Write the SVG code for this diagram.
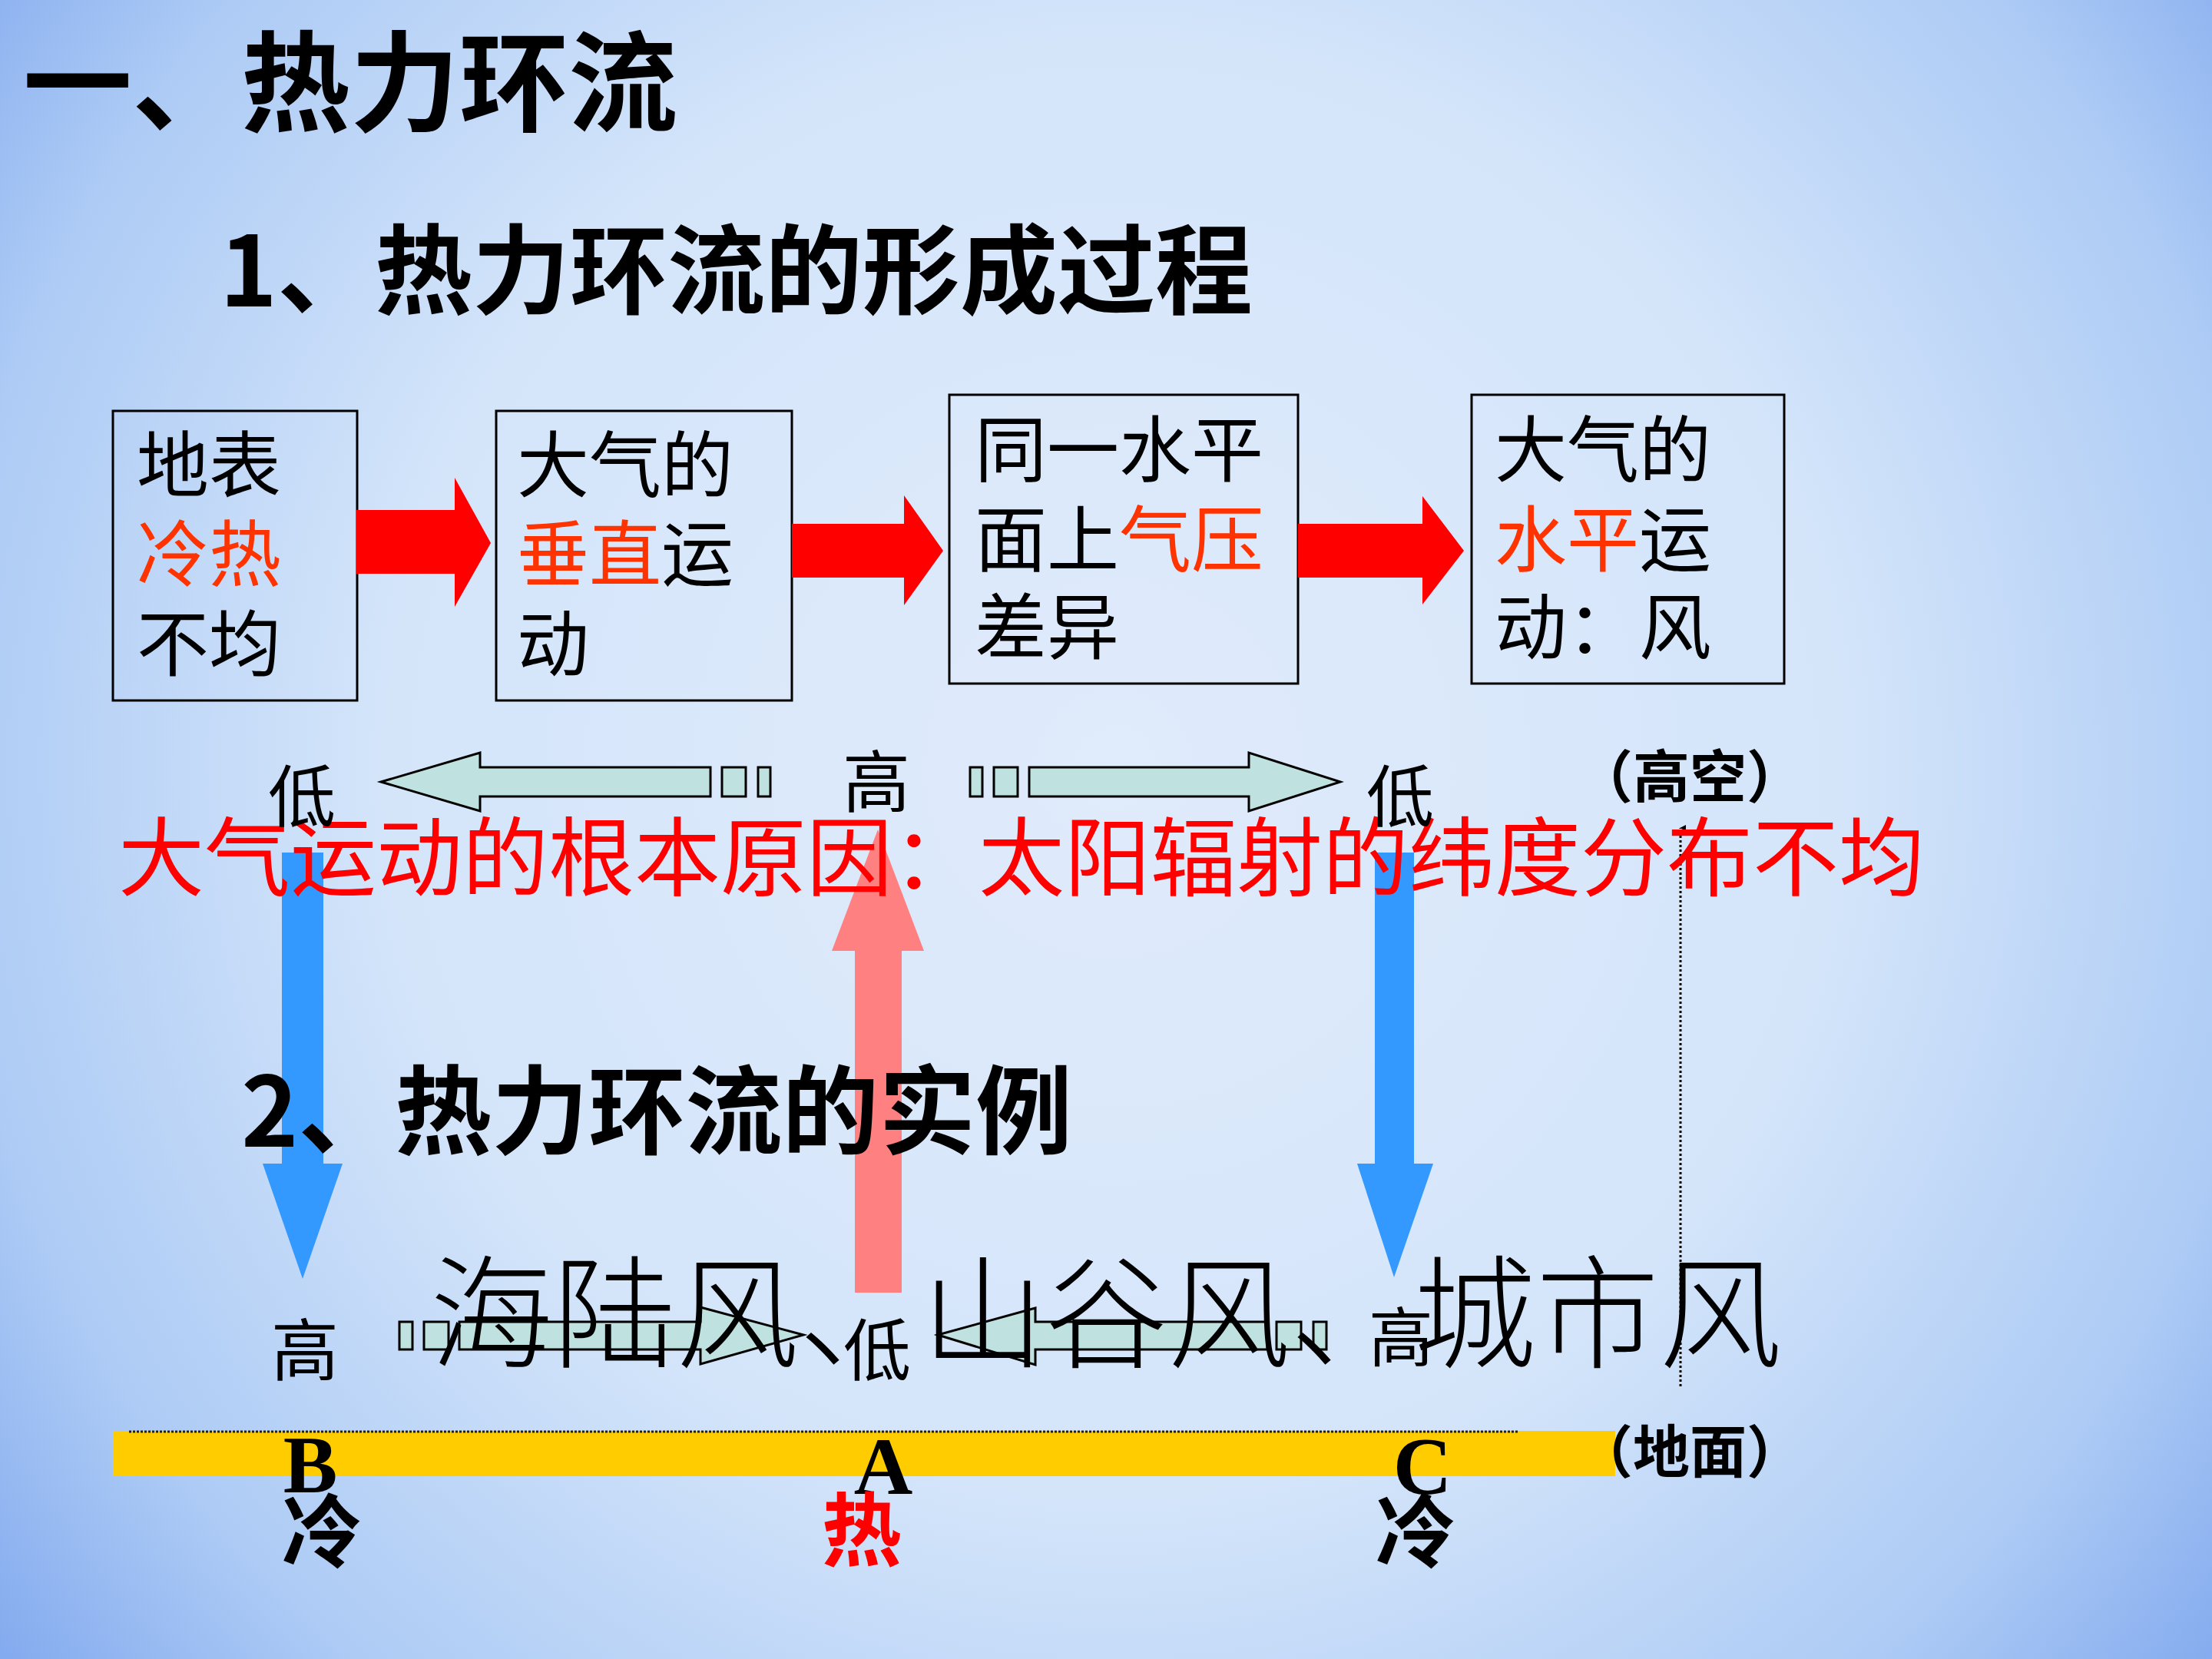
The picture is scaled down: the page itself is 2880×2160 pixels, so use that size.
<svg xmlns="http://www.w3.org/2000/svg" width="2880" height="2160" viewBox="0 0 2880 2160">
<defs>
<radialGradient id="bg" gradientUnits="userSpaceOnUse" cx="1450" cy="1000" r="1900">
<stop offset="0" stop-color="#e0ebfb"/>
<stop offset="0.5" stop-color="#d4e5fa"/>
<stop offset="0.8" stop-color="#adcbf5"/>
<stop offset="1" stop-color="#7ea6ee"/>
</radialGradient>
<marker id="tri" viewBox="0 0 10 10" refX="5" refY="1" markerWidth="8" markerHeight="8" markerUnits="userSpaceOnUse" orient="auto-start-reverse">
<path d="M0,10 L5,0 L10,10 Z" fill="#000"/>
</marker>
<style>
.cjk{font-family:"Noto Sans CJK SC","Noto Sans CJK JP",sans-serif;}
.k{fill:#000;}
.o{fill:#ff3300;}
.r{fill:#ff0000;}
.box{fill:none;stroke:#000;stroke-width:3;}
.red{fill:#ff0000;}
.blue{fill:#3399ff;}
.pink{fill:#ff8080;}
.hol{fill:#bfe1df;stroke:#000;stroke-width:3;stroke-linejoin:miter;}
.bt{font-size:94px;}
.lab{font-size:88px;}
.ser{font-family:"Liberation Serif",serif;font-weight:bold;}
</style>
</defs>
<rect x="0" y="0" width="2880" height="2160" fill="url(#bg)"/>

<g id="titles" class="cjk k" font-weight="bold">
<text x="30" y="160" font-size="142">一、热力环流</text>
<text x="286" y="399" font-size="127">1、热力环流的形成过程</text>
</g>

<g id="node-1">
<rect class="box" x="147" y="535" width="318" height="377"/>
<text class="cjk bt k" x="178" y="640">地表</text>
<text class="cjk bt o" x="178" y="756">冷热</text>
<text class="cjk bt k" x="178" y="873">不均</text>
</g>
<g id="node-2">
<rect class="box" x="646" y="535" width="385" height="377"/>
<text class="cjk bt k" x="673" y="640">大气的</text>
<text class="cjk bt" x="673" y="756"><tspan class="o">垂直</tspan><tspan class="k">运</tspan></text>
<text class="cjk bt k" x="673" y="873">动</text>
</g>
<g id="node-3">
<rect class="box" x="1236" y="514" width="454" height="376"/>
<text class="cjk bt k" x="1269" y="620">同一水平</text>
<text class="cjk bt" x="1269" y="737"><tspan class="k">面上</tspan><tspan class="o">气压</tspan></text>
<text class="cjk bt k" x="1269" y="851">差异</text>
</g>
<g id="node-4">
<rect class="box" x="1916" y="514" width="407" height="376"/>
<text class="cjk bt k" x="1946" y="620">大气的</text>
<text class="cjk bt" x="1946" y="737"><tspan class="o">水平</tspan><tspan class="k">运</tspan></text>
<text class="cjk bt k" x="1946" y="851">动：风</text>
</g>

<g id="connectors">
<polygon class="red" points="464,664 592,664 592,622 639,707 592,790 592,747 464,747"/>
<polygon class="red" points="1031,682 1177,682 1177,645 1228,717 1177,788 1177,752 1031,752"/>
<polygon class="red" points="1690,682 1852,682 1852,646 1906,717 1852,787 1852,752 1690,752"/>

<polygon class="hol" points="496,1018 625,980 625,999 925,999 925,1037 625,1037 625,1056"/>
<rect class="hol" x="940" y="999" width="31" height="38"/>
<rect class="hol" x="987" y="999" width="16" height="38"/>
<polygon class="hol" points="1745,1018 1626,980 1626,999 1340,999 1340,1037 1626,1037 1626,1056"/>
<rect class="hol" x="1294" y="999" width="31" height="38"/>
<rect class="hol" x="1263" y="999" width="16" height="38"/>

<polygon class="blue" points="367,1110 421,1110 421,1515 446,1515 394,1665 342,1515 367,1515"/>
<polygon class="blue" points="1790,1110 1841,1110 1841,1515 1866,1515 1815,1663 1767,1515 1790,1515"/>
<polygon class="pink" points="1113,1683 1113,1238 1083,1238 1143,1080 1203,1238 1174,1238 1174,1683"/>

<line x1="2188" y1="1805" x2="2188" y2="1078" stroke="#000" stroke-width="3" stroke-dasharray="3,3" marker-end="url(#tri)"/>

<polygon class="hol" points="1046,1738 912,1702 912,1721 598,1721 598,1757 912,1757 912,1776"/>
<rect class="hol" x="552" y="1721" width="32" height="36"/>
<rect class="hol" x="520" y="1721" width="17" height="36"/>
<polygon class="hol" points="1221,1738 1348,1703 1348,1721 1650,1721 1650,1757 1348,1757 1348,1777"/>
<rect class="hol" x="1662" y="1721" width="32" height="36"/>
<rect class="hol" x="1710" y="1721" width="17" height="36"/>
</g>

<g id="cause">
<text class="cjk r" x="154" y="1158" font-size="112">大气运动的根本原因：太阳辐射的纬度分布不均</text>
</g>

<g id="upper-labels" class="cjk k">
<text class="lab" x="349" y="1069">低</text>
<text class="lab" x="1097" y="1050">高</text>
<text class="lab" x="1779" y="1069">低</text>
<text x="2052" y="1038" font-size="74" font-weight="bold">（高空）</text>
</g>

<g id="heading-2">
<text class="cjk k" x="314" y="1493" font-size="126" font-weight="bold">2、热力环流的实例</text>
</g>

<g id="lower-labels" class="cjk k">
<text class="lab" x="353" y="1790">高</text>
<text class="lab" x="1098" y="1790">低</text>
<text x="1782" y="1772" font-size="84">高</text>
</g>

<g id="examples">
<text class="cjk k" x="560" y="1769" font-size="160" font-weight="300">海陆风、山谷风、城市风</text>
</g>

<g id="ground">
<rect x="147" y="1863" width="1956" height="59" fill="#ffcc00"/>
<line x1="168" y1="1864" x2="1976" y2="1864" stroke="#222" stroke-width="3" stroke-dasharray="3,2"/>
<text class="cjk k" x="2052" y="1917" font-size="74" font-weight="bold">（地面）</text>
</g>

<g id="points">
<text class="ser k" x="404" y="1943" font-size="106" text-anchor="middle">B</text>
<text class="ser k" x="1150" y="1945" font-size="106" text-anchor="middle">A</text>
<text class="ser k" x="1852" y="1945" font-size="106" text-anchor="middle">C</text>
<text class="cjk k" x="367" y="2033" font-size="104" font-weight="bold">冷</text>
<text class="cjk r" x="1070" y="2031" font-size="104" font-weight="bold">热</text>
<text class="cjk k" x="1791" y="2033" font-size="104" font-weight="bold">冷</text>
</g>
</svg>
